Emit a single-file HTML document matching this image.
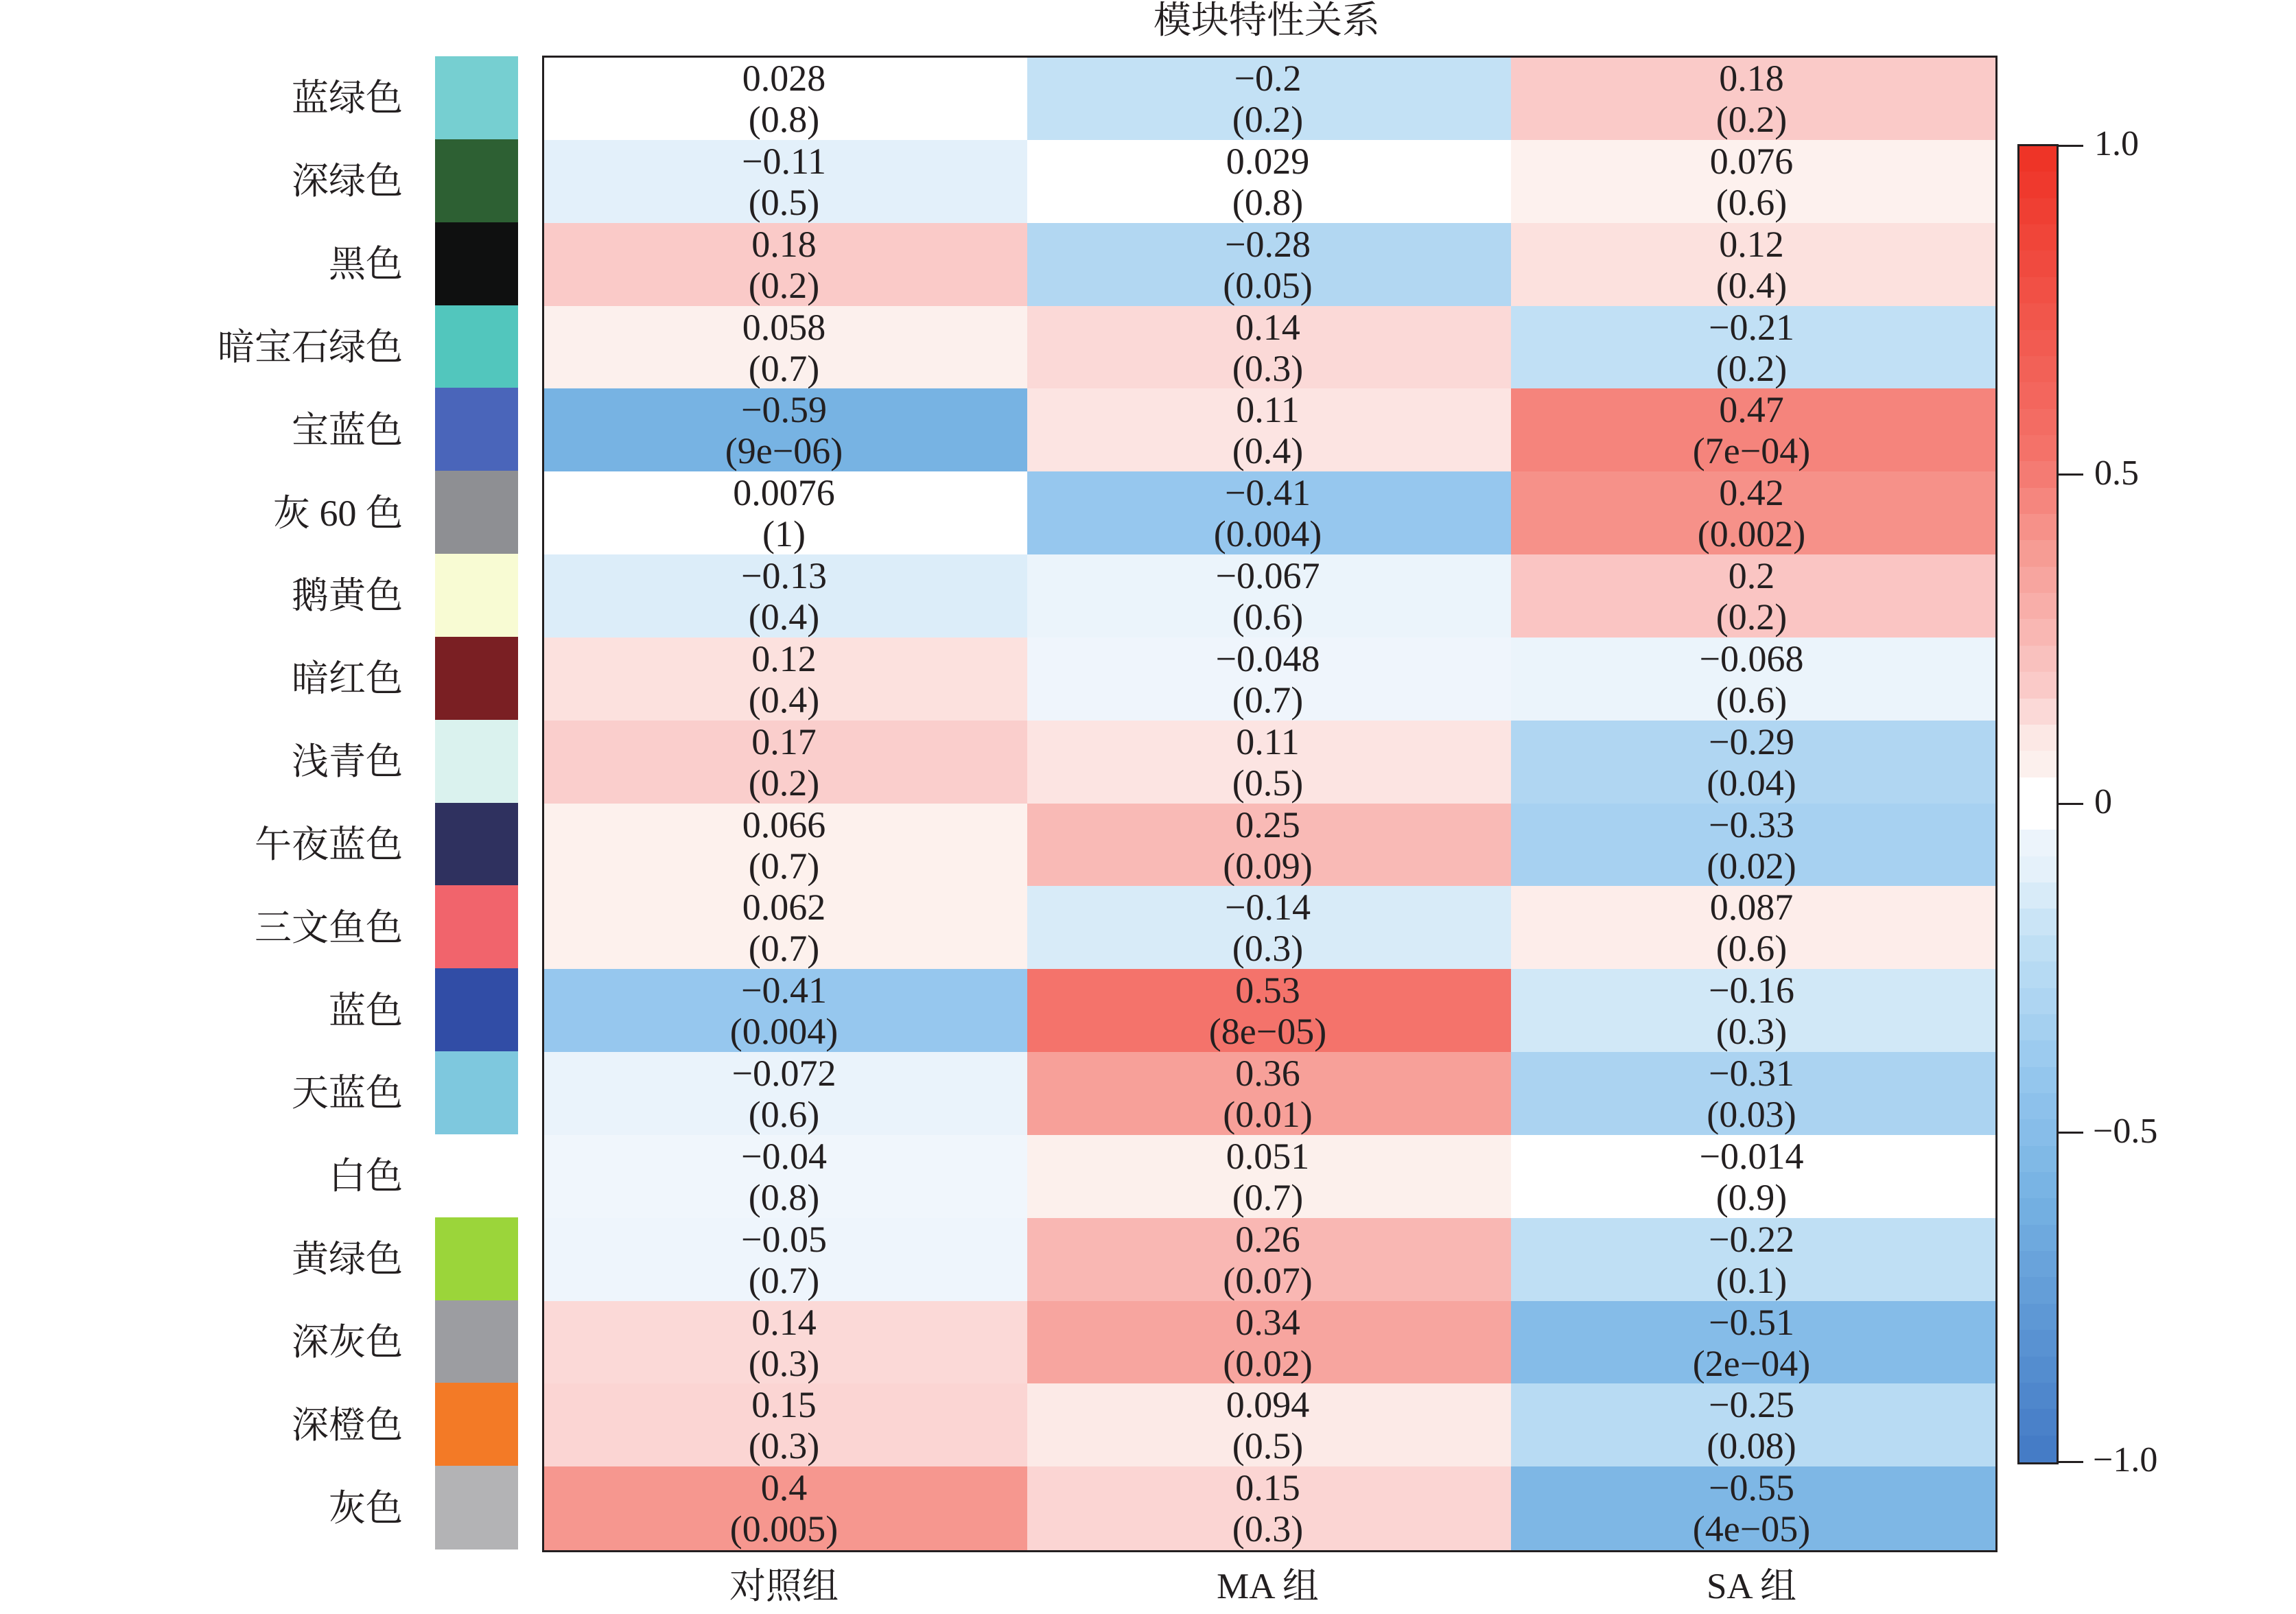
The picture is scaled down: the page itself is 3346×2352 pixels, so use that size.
<!DOCTYPE html>
<html><head><meta charset="utf-8">
<style>
html,body{margin:0;padding:0;background:#fff;}
#c{position:relative;width:3346px;height:2352px;overflow:hidden;background:#fff;font-family:"Liberation Serif","Noto Serif CJK SC",serif;color:#231f20;}
.a{position:absolute;}
.num{position:absolute;width:705px;text-align:center;font-size:54px;line-height:60px;}
.lab{position:absolute;right:2759px;font-size:54px;line-height:60px;white-space:nowrap;}
</style></head><body>
<div id="c"></div>
<script>
var C=document.getElementById('c');
function add(h){C.insertAdjacentHTML('beforeend',h);}
var names=["蓝绿色","深绿色","黑色","暗宝石绿色","宝蓝色","灰 60 色","鹅黄色","暗红色","浅青色","午夜蓝色","三文鱼色","蓝色","天蓝色","白色","黄绿色","深灰色","深橙色","灰色"];
var sw=["#76CFD1","#2D6033","#0F1010","#52C6BD","#4A65BA","#8E8F93","#F8FBD3","#7A1F23","#DAF2EE","#2F315F","#F1646C","#314DA6","#7EC8DE","#FFFFFF","#9BD53A","#9C9DA1","#F37A26","#B3B3B5"];
var d=[
[["0.028","0.8"],["−0.2","0.2"],["0.18","0.2"]],
[["−0.11","0.5"],["0.029","0.8"],["0.076","0.6"]],
[["0.18","0.2"],["−0.28","0.05"],["0.12","0.4"]],
[["0.058","0.7"],["0.14","0.3"],["−0.21","0.2"]],
[["−0.59","9e−06"],["0.11","0.4"],["0.47","7e−04"]],
[["0.0076","1"],["−0.41","0.004"],["0.42","0.002"]],
[["−0.13","0.4"],["−0.067","0.6"],["0.2","0.2"]],
[["0.12","0.4"],["−0.048","0.7"],["−0.068","0.6"]],
[["0.17","0.2"],["0.11","0.5"],["−0.29","0.04"]],
[["0.066","0.7"],["0.25","0.09"],["−0.33","0.02"]],
[["0.062","0.7"],["−0.14","0.3"],["0.087","0.6"]],
[["−0.41","0.004"],["0.53","8e−05"],["−0.16","0.3"]],
[["−0.072","0.6"],["0.36","0.01"],["−0.31","0.03"]],
[["−0.04","0.8"],["0.051","0.7"],["−0.014","0.9"]],
[["−0.05","0.7"],["0.26","0.07"],["−0.22","0.1"]],
[["0.14","0.3"],["0.34","0.02"],["−0.51","2e−04"]],
[["0.15","0.3"],["0.094","0.5"],["−0.25","0.08"]],
[["0.4","0.005"],["0.15","0.3"],["−0.55","4e−05"]]];
var stops=[[-1,[66,121,197]],[-0.59,[119,179,227]],[-0.41,[150,199,238]],[-0.2,[195,225,245]],[-0.11,[227,240,250]],[-0.04,[240,246,252]],[-0.03,[255,255,255]],[0.031,[255,255,255]],[0.045,[252,240,236]],[0.076,[253,241,238]],[0.18,[250,202,200]],[0.4,[246,151,143]],[0.53,[244,115,107]],[1,[238,49,36]]];
function col(v){
 for(var i=0;i<stops.length-1;i++){var a=stops[i],b=stops[i+1];
  if(v<=b[0]){var t=(v-a[0])/(b[0]-a[0]);var r=[0,1,2].map(function(k){return Math.round(a[1][k]+(b[1][k]-a[1][k])*t);});return "rgb("+r.join(",")+")";}}
 return "rgb(238,49,36)";}
var L=792,T=83,W=705,H=(2258-83)/18;
add('<div class="a" style="left:1846px;top:-2px;transform:translateX(-50%);font-size:55px;line-height:64px;white-space:nowrap">模块特性关系</div>');
for(var r=0;r<18;r++){
 var y=T+r*H;
 add('<div class="a" style="left:634px;top:'+(y-1)+'px;width:121px;height:'+(H+1)+'px;background:'+sw[r]+'"></div>');
 add('<div class="lab" style="top:'+(y+H/2-30)+'px">'+names[r]+'</div>');
 for(var c=0;c<3;c++){
  var v=parseFloat(d[r][c][0].replace('−','-'));
  add('<div class="a" style="left:'+(L+c*W)+'px;top:'+y+'px;width:'+(W+1)+'px;height:'+(H+1)+'px;background:'+col(v)+'"></div>');
  add('<div class="num" style="left:'+(L+c*W-2)+'px;top:'+(y+1)+'px">'+d[r][c][0]+'</div>');
  add('<div class="num" style="left:'+(L+c*W-2)+'px;top:'+(y+61)+'px">('+d[r][c][1]+')</div>');
 }
}
add('<div class="a" style="left:'+(L-2)+'px;top:'+(T-2)+'px;width:'+(3*W)+'px;height:'+(18*H)+'px;border:3px solid #231f20"></div>');
var cl=["对照组","MA 组","SA 组"];
for(var c=0;c<3;c++)add('<div class="a" style="left:'+(L+c*W-2)+'px;top:2280px;width:'+W+'px;text-align:center;font-size:53px;line-height:64px">'+cl[c]+'</div>');
var cbT=212,cbB=2130,n=50,sh=(cbB-cbT)/n;
for(var i=0;i<n;i++){var v=1-(i+0.5)*2/n;add('<div class="a" style="left:2941px;top:'+(cbT+i*sh)+'px;width:57px;height:'+(sh+1)+'px;background:'+col(v)+'"></div>');}
add('<div class="a" style="left:2940px;top:'+(cbT-2)+'px;width:54px;height:'+(cbB-cbT)+'px;border:3px solid #231f20"></div>');
var tk=[["1.0",1],["0.5",0.5],["0",0],["−0.5",-0.5],["−1.0",-1]];
tk.forEach(function(t){var y=cbT+(1-t[1])/2*(cbB-cbT);
 add('<div class="a" style="left:2998px;top:'+(y-1.5)+'px;width:38px;height:3px;background:#231f20"></div>');
 add('<div class="a" style="left:'+(t[0][0]=="−"?3050:3052)+'px;top:'+(y-32)+'px;font-size:52px;line-height:60px">'+t[0]+'</div>');});
</script>
</body></html>
